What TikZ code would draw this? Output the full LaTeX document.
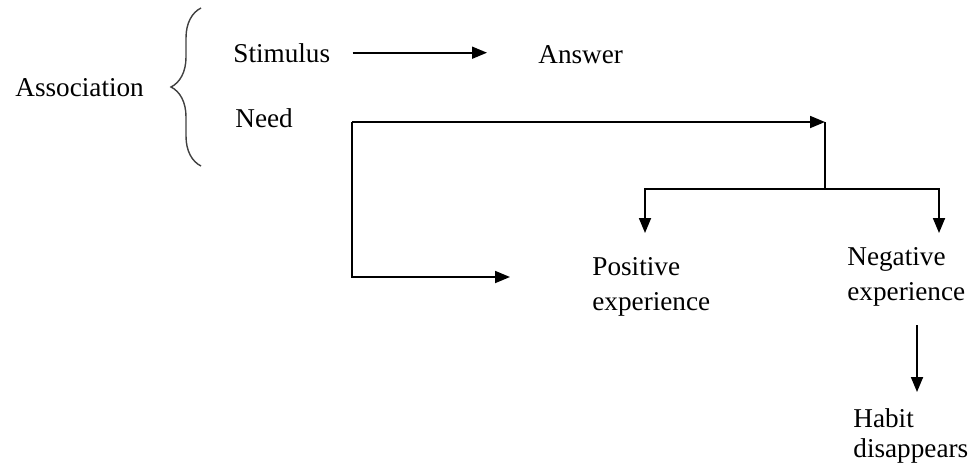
\documentclass[tikz,border=0pt]{standalone}
\usepackage{fontspec}
\setmainfont{Liberation Serif}
\usetikzlibrary{arrows.meta,positioning,decorations.pathreplacing}

\begin{document}
\begin{tikzpicture}[x=0.5pt,y=-0.5pt,
  lbl/.style={inner sep=0pt, anchor=base west, font=\fontsize{13.6}{17.5}\selectfont},
  two/.style={lbl, align=left},
  arr/.style={-{Triangle[length=7.5pt,width=6pt]}, line width=0.9pt},
  link/.style={line width=0.9pt}]
  \useasboundingbox (0,0) rectangle (972,472);

  % Association and its brace
  \node[lbl] (assoc) at (15,96) {Association};
  \draw[black!75, line width=0.7pt, decorate,
    decoration={brace, amplitude=15pt}] (201,166) -- (201,8);

  % Stimulus -> Answer
  \node[lbl] (stim) at (233,62) {Stimulus};
  \node[lbl] (ans) at (538,63) {Answer};
  \draw[arr, shorten <=11pt, shorten >=25.5pt] (stim.east) -- (stim.east -| ans.west);

  % Need and the two outcomes
  \node[lbl] (need) at (235,127) {Need};
  \node[two] (pos) at (592,310) {Positive\\experience};
  \node[two] (neg) at (847,300) {Negative\\experience};
  \node[two] (habit) at (853,457) {Habit\\[-2.5pt]disappears};

  \coordinate (loop) at (352,122);
  \coordinate (split) at (825,122);
  \coordinate (fork) at (825,189);
  \coordinate (low) at (510,277);
  \coordinate (postip) at (645,233);
  \coordinate (negtip) at (939,233);

  \draw[arr] (loop) -- (split);
  \draw[link] (split) -- (fork);
  \draw[arr] (fork) -| (postip);
  \draw[arr] (fork) -| (negtip);
  \draw[arr] (loop) |- (low);
  \draw[arr] (917,325) -- (917,392);
\end{tikzpicture}
\end{document}
